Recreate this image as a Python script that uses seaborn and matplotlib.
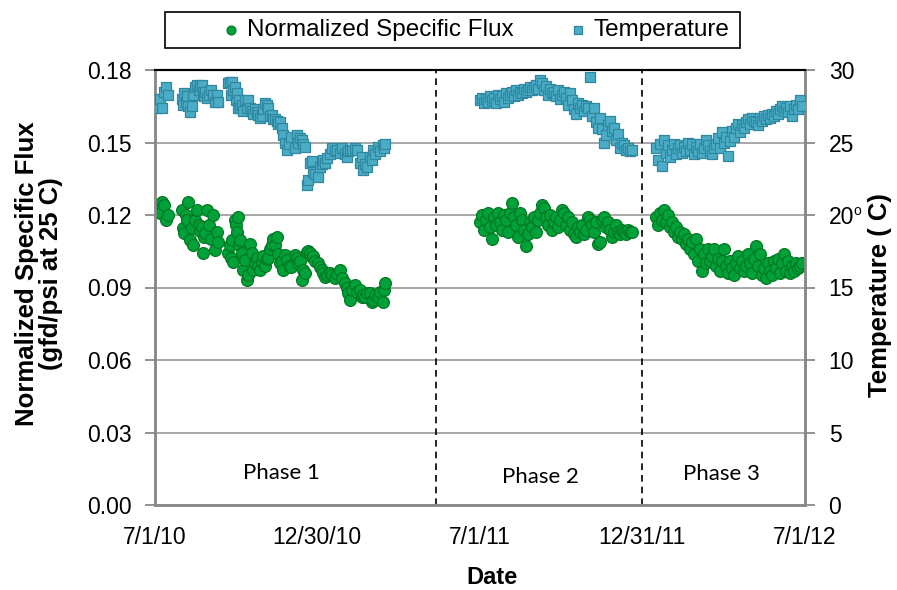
import pandas as pd
import matplotlib
matplotlib.use("Agg")
import matplotlib.pyplot as plt
from matplotlib.patches import Rectangle
import seaborn as sns

# Sampling dates are stored as day offsets from the start of monitoring
START = "2010-07-01"

# Phase 1
p1_day = [3, 6, 8, 10, 12, 15,
          30, 31, 33, 35, 36, 37, 39, 42, 43, 45, 47, 49, 51, 53, 54, 55, 56, 58, 61, 63, 65, 67, 70, 71,
          82, 84, 85, 87, 88, 90, 91, 92, 93, 94, 96, 98, 99, 101, 103, 105, 107, 109, 110, 112,
          115, 116, 118, 120, 121, 124, 126, 127, 129, 132, 133, 135, 137, 138, 141, 143, 144, 146, 148, 151,
          153, 157, 160, 161, 163, 165, 166, 169, 171, 172, 174, 177, 178, 180, 183, 186, 188, 189, 191, 193,
          197, 199, 202, 205, 208, 210, 214, 216, 217, 219, 222, 225, 227, 231, 233, 234, 236, 238, 242, 244,
          245, 247, 251, 253, 256, 257, 259]
p1_flux = [0.1221, 0.1208, 0.1254, 0.1240, 0.1179, 0.1200,
           0.1221, 0.1146, 0.1126, 0.1200, 0.1179, 0.1254, 0.1097, 0.1146, 0.1076, 0.1179,
           0.1221, 0.1160, 0.1135, 0.1150, 0.1043, 0.1108, 0.1126, 0.1221, 0.1160, 0.1100,
           0.1200, 0.1055, 0.1130, 0.1090,
           0.1043, 0.1076, 0.1022, 0.1097, 0.1006, 0.1179, 0.1160, 0.1130, 0.1190, 0.1076,
           0.1097, 0.1043, 0.0972, 0.1014, 0.0931, 0.0950, 0.1080, 0.1043, 0.0972, 0.1000,
           0.1022, 0.0990, 0.0972, 0.1006, 0.1030, 0.0990, 0.1020, 0.1022, 0.1060, 0.1076,
           0.1100, 0.1076, 0.1109, 0.1040, 0.1001, 0.1010, 0.0972, 0.1034, 0.1014, 0.0990,
           0.0985, 0.1034, 0.1022, 0.1001, 0.1010, 0.0931, 0.0972, 0.0960, 0.1047, 0.1050,
           0.1043, 0.1026, 0.1030, 0.1010, 0.1001, 0.0985, 0.0972, 0.0960, 0.0943, 0.0950,
           0.0960, 0.0950, 0.0940, 0.0955, 0.0972, 0.0940, 0.0919, 0.0900, 0.0877, 0.0848,
           0.0890, 0.0910, 0.0880, 0.0890, 0.0860, 0.0870, 0.0860, 0.0877, 0.0877, 0.0840,
           0.0848, 0.0870, 0.0860, 0.0880, 0.0840, 0.0890, 0.0919]
p1_temp = [27.4, 28.0, 27.4, 28.5, 28.8, 28.3,
           28.0, 27.6, 28.4, 27.8, 28.2, 27.5, 27.1, 27.5, 28.3, 28.8,
           29.0, 28.6, 28.9, 29.0, 28.5, 28.2, 28.5, 28.1, 28.3, 28.6,
           28.3, 27.8, 28.3, 27.8,
           29.1, 29.2, 28.3, 29.2, 28.6, 28.8, 27.9, 28.4, 27.4, 27.9,
           27.4, 27.6, 27.2, 27.9, 27.4, 27.9, 27.4, 27.2, 27.0, 27.3,
           27.1, 26.9, 26.7, 26.8, 27.3, 27.7, 27.6, 27.4, 26.8, 26.9,
           26.6, 26.6, 26.5, 26.3, 26.4, 26.0, 25.5, 25.0, 24.5, 24.9,
           25.4, 24.6, 25.5, 25.0, 25.3, 25.2, 24.9, 24.7, 22.1, 22.4,
           23.6, 23.7, 23.0, 22.8, 22.6, 23.3, 23.5, 23.8, 23.6, 23.9,
           24.2, 24.6, 24.4, 24.5, 24.3, 24.6, 24.2, 24.0, 24.4, 24.5,
           24.5, 24.6, 24.5, 23.6, 24.0, 23.1, 23.5, 23.3, 24.0, 23.8,
           24.5, 24.2, 24.7, 24.4, 24.8, 24.6, 24.9]

# Phase 2
p2_day = [365, 368, 370, 372, 374, 377, 379, 381, 383, 386,
          388, 390, 392, 395, 397, 399, 401, 404, 406, 408,
          410, 413, 415, 417, 419, 422, 424, 426, 428, 431,
          433, 435, 437, 440, 442, 444, 446, 449, 451, 453,
          455, 458, 460, 462, 464, 467, 469, 471, 473, 476,
          478, 480, 482, 485, 487, 489, 491, 494, 496, 498,
          500, 503, 505, 507, 509, 512, 514, 516, 518, 521,
          523, 525, 527, 530, 532, 534, 536]
p2_flux = [0.117, 0.120, 0.114, 0.118, 0.121, 0.115, 0.110, 0.119, 0.116, 0.121,
           0.117, 0.114, 0.120, 0.118, 0.113, 0.121, 0.125, 0.119, 0.116, 0.111,
           0.121, 0.118, 0.114, 0.107, 0.112, 0.117, 0.115, 0.119, 0.113, 0.118,
           0.121, 0.124, 0.123, 0.119, 0.116, 0.120, 0.114, 0.117, 0.119, 0.115,
           0.118, 0.122, 0.121, 0.116, 0.119, 0.114, 0.117, 0.112, 0.111, 0.115,
           0.113, 0.116, 0.112, 0.114, 0.119, 0.118, 0.116, 0.113, 0.117, 0.108,
           0.109, 0.118, 0.119, 0.115, 0.117, 0.114, 0.111, 0.113, 0.116, 0.113,
           0.112, 0.114, 0.113, 0.112, 0.114, 0.113, 0.113]
p2_temp = [27.9, 28.1, 27.7, 28.0, 27.8, 28.2, 27.9, 28.1, 27.7, 28.3,
           28.0, 28.2, 27.8, 28.4, 28.1, 28.3, 28.5, 28.2, 28.6, 28.3,
           28.5, 28.4, 28.7, 28.5, 28.6, 28.8, 28.6, 28.8, 29.0, 28.7,
           29.3, 29.1, 28.6, 28.9, 28.3, 28.7, 28.4, 28.5, 28.2, 28.6,
           28.0, 28.3, 28.5, 28.1, 27.6, 28.4, 27.9, 27.3, 27.0, 27.7,
           27.4, 27.6, 27.2, 27.5, 27.4, 29.5, 26.8, 27.4, 26.4, 26.0,
           26.7, 25.9, 25.0, 25.5, 26.2, 26.5, 25.8, 26.0, 25.2, 25.6,
           24.6, 25.0, 24.8, 24.5, 24.6, 24.4, 24.5]

# Phase 3
p3_day = [563, 566, 568, 570, 572, 575, 577, 579, 581, 584,
          586, 588, 590, 593, 595, 597, 599, 602, 604, 606,
          608, 611, 613, 615, 617, 620, 622, 624, 626, 629,
          631, 633, 635, 638, 640, 642, 644, 647, 649, 651,
          653, 656, 658, 660, 662, 665, 667, 669, 671, 674,
          676, 678, 680, 683, 685, 687, 689, 692, 694, 696,
          698, 701, 703, 705, 707, 710, 712, 714, 716, 719,
          721, 723, 725, 728]
p3_flux = [0.119, 0.116, 0.121, 0.118, 0.122, 0.117, 0.120, 0.115, 0.117, 0.113,
           0.115, 0.111, 0.113, 0.110, 0.112, 0.108, 0.110, 0.106, 0.109, 0.104,
           0.110, 0.101, 0.106, 0.097, 0.104, 0.100, 0.106, 0.101, 0.103, 0.106,
           0.099, 0.102, 0.097, 0.101, 0.106, 0.099, 0.096, 0.101, 0.098, 0.095,
           0.100, 0.103, 0.098, 0.101, 0.097, 0.099, 0.104, 0.100, 0.096, 0.102,
           0.107, 0.099, 0.104, 0.095, 0.098, 0.094, 0.100, 0.097, 0.095, 0.101,
           0.098, 0.102, 0.096, 0.100, 0.104, 0.097, 0.101, 0.096, 0.099, 0.097,
           0.100, 0.098, 0.099, 0.100]
p3_temp = [24.6, 23.8, 24.9, 23.4, 25.2, 24.3, 24.8, 24.0, 24.5, 24.9,
           24.2, 24.6, 24.8, 24.3, 24.7, 24.4, 25.0, 24.5, 24.9, 24.2,
           24.7, 24.4, 24.9, 24.3, 24.6, 25.2, 24.8, 24.4, 24.2, 24.6,
           24.9, 25.3, 24.6, 25.7, 25.0, 25.4, 24.1, 25.1, 25.8, 25.4,
           26.0, 26.3, 25.7, 26.2, 26.0, 26.4, 26.6, 26.3, 26.7, 26.5,
           26.4, 26.2, 26.7, 26.5, 26.8, 26.6, 26.9, 26.7, 27.0, 26.8,
           27.2, 27.0, 27.3, 27.5, 27.2, 27.4, 27.1, 27.5, 26.8, 27.3,
           27.6, 27.3, 27.9, 27.5]

phase_names = ["Phase 1", "Phase 2", "Phase 3"]
phase_breaks = ["2011-05-13", "2011-12-31"]
x_ticks = ["2010-07-01", "2010-12-30", "2011-07-01", "2011-12-31", "2012-07-01"]
x_tick_labels = ["7/1/10", "12/30/10", "7/1/11", "12/31/11", "7/1/12"]
flux_ticks = [0.00, 0.03, 0.06, 0.09, 0.12, 0.15, 0.18]
temp_ticks = [0, 5, 10, 15, 20, 25, 30]

frames = []
for name, days, flux, temp in zip(phase_names,
                                  [p1_day, p2_day, p3_day],
                                  [p1_flux, p2_flux, p3_flux],
                                  [p1_temp, p2_temp, p3_temp]):
    frames.append(pd.DataFrame({
        "Date": pd.Timestamp(START) + pd.to_timedelta(days, unit="D"),
        "Flux": flux,
        "Temp": temp,
        "Phase": name,
    }))
df = pd.concat(frames, ignore_index=True)

GREEN, GREEN_EDGE = "#00A03A", "#007A22"
AQUA, AQUA_EDGE = "#4BACC6", "#2F87A0"
AXIS_GRAY = "#898989"

sns.set_style("white")
plt.rcParams["font.family"] = ["Liberation Sans", "DejaVu Sans"]
plt.rcParams["text.color"] = "black"
plt.rcParams["axes.labelcolor"] = "black"

fig = plt.figure(figsize=(8.97, 5.90), dpi=100)
ax = fig.add_axes([155 / 897, 85 / 590, 650 / 897, 435 / 590])
ax2 = ax.twinx()

sns.scatterplot(data=df, x="Date", y="Flux", ax=ax, marker="o", s=72,
                color=GREEN, edgecolor=GREEN_EDGE, linewidth=0.9, legend=False, zorder=3)
sns.scatterplot(data=df, x="Date", y="Temp", ax=ax2, marker="s", s=62,
                color=AQUA, edgecolor=AQUA_EDGE, linewidth=0.9, legend=False, zorder=3)

ax.set_xlim(pd.Timestamp(x_ticks[0]), pd.Timestamp(x_ticks[-1]))
ax.set_ylim(flux_ticks[0], flux_ticks[-1])
ax2.set_ylim(temp_ticks[0], temp_ticks[-1])
ax.set_xticks(pd.to_datetime(x_ticks))
ax.set_xticklabels(x_tick_labels)
ax.set_yticks(flux_ticks)
ax.set_yticklabels([f"{v:.2f}" for v in flux_ticks])
ax2.set_yticks(temp_ticks)
ax2.set_yticklabels([str(v) for v in temp_ticks])

ax.grid(axis="y", color="#A8A8A8", linewidth=1.4)
ax.grid(axis="x", visible=False)
ax.set_axisbelow(True)

for b in phase_breaks:
    ax.axvline(pd.Timestamp(b), color="black", linewidth=1.2, dashes=(4, 3), zorder=2)

for a in (ax, ax2):
    for side in ("left", "right", "bottom"):
        a.spines[side].set_color(AXIS_GRAY)
        a.spines[side].set_linewidth(1.8)
    a.spines["top"].set_color("black")
    a.spines["top"].set_linewidth(1.5)

ax.tick_params(axis="both", direction="out", length=7, width=1.3, color=AXIS_GRAY,
               labelsize=16.5, labelcolor="black")
ax.tick_params(axis="y", pad=10)
ax.tick_params(axis="x", pad=8)
ax2.tick_params(axis="y", direction="out", length=7, width=1.3, color=AXIS_GRAY,
                labelsize=16.5, labelcolor="black", pad=10)

ax.set_xlabel("Date", fontsize=17, fontweight="bold", color="black")
ax.xaxis.set_label_coords((492 - 155) / 650, (505 - 577) / 435)
ax.xaxis.label.set_va("center")
ax.set_ylabel("Normalized Specific Flux\n(gfd/psi at 25 C)", fontsize=18.5,
              fontweight="bold", linespacing=1.0, color="black")
ax.yaxis.label.set_va("center")
ax.yaxis.set_label_coords((39 - 155) / 650, (505 - 274) / 435)
ax2.set_ylabel("Temperature ( C)", fontsize=18.5, fontweight="bold", rotation=90,
               color="black")
ax2.yaxis.label.set_va("center")
ax2.yaxis.set_label_coords((880 - 155) / 650, (505 - 295) / 435)
fig.text(857 / 897, 1 - 211 / 590, "o", fontsize=10, ha="center", va="center",
         color="black")

phase_pos = [(281, 473), (540, 477), (721, 474)]
for name, (px, py) in zip(phase_names, phase_pos):
    ax.text((px - 155) / 650, (505 - py) / 435, name, transform=ax.transAxes,
            ha="center", va="center", fontsize=16, color="black",
            family=["Lato", "DejaVu Sans"])

fig.add_artist(Rectangle((165 / 897, 1 - 48 / 590), 575 / 897, 36 / 590,
                         transform=fig.transFigure, fill=False,
                         edgecolor="black", linewidth=1.2))
leg = fig.legend(handles=[ax.collections[0], ax2.collections[0]],
                 labels=["Normalized Specific Flux", "Temperature"],
                 loc="center", bbox_to_anchor=(476 / 897, 1 - 30 / 590), ncol=2,
                 frameon=False, fontsize=17.5, markerscale=0.75, handlelength=0.7,
                 handletextpad=0.3, columnspacing=2.3, borderpad=0)
for t in leg.get_texts():
    t.set_color("black")

fig.savefig("out.png", dpi=100)
